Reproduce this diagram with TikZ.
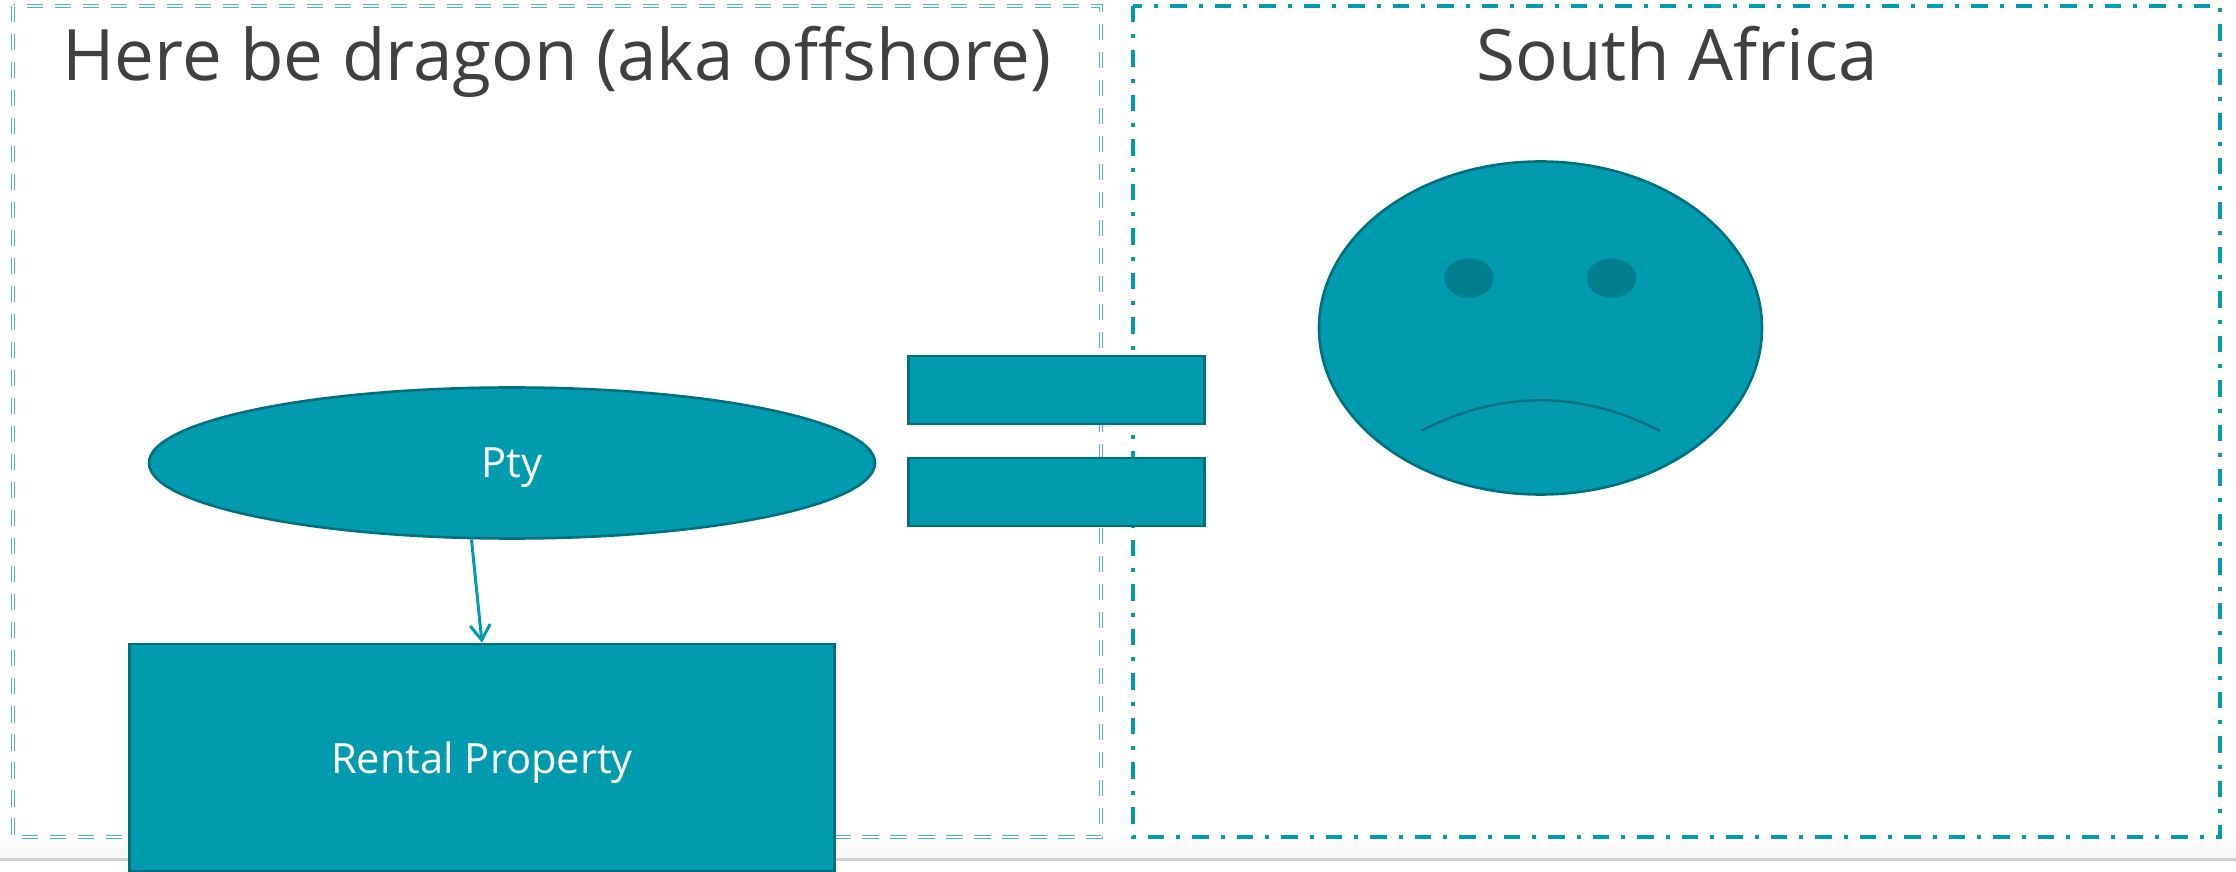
\documentclass[tikz,border=0pt]{standalone}
\usepackage{fontspec}
\setmainfont{Open Sans}
\usepackage{xcolor}
\usetikzlibrary{shapes,arrows.meta,positioning}
\definecolor{tealfill}{HTML}{009BAF}
\definecolor{tealedge}{HTML}{007080}
\definecolor{tealeye}{HTML}{00808F}
\definecolor{titlegray}{HTML}{404040}
\def\px{0.2499bp}
\tikzset{
 plate/.style={draw=tealedge,fill=tealfill,line width=2.6*\px,inner sep=0pt,text=white,text depth=0pt,font=\fontsize{10.45}{13}\selectfont},
 eyeball/.style={ellipse,draw=tealedge!70!tealfill,fill=tealeye,line width=2.4*\px,minimum width=47*\px,minimum height=37*\px,inner sep=0pt},
 titletext/.style={font=\fontsize{17.8}{21}\selectfont,text=titlegray,anchor=base,inner sep=0pt},
}
\begin{document}
\begin{tikzpicture}[x=\px,y=-\px]
\useasboundingbox (0,0) rectangle (2236,872);
% ---------- slide footer
\shade[top color=white,bottom color=black!3] (0,830) rectangle (2236,858);
\draw[black!18,line width=3*\px] (0,859)--(2236,859);
% ---------- jurisdiction frames
\draw[tealfill!72,line width=1.8*\px,double=white,double distance=1.2*\px,dash pattern=on 16.5*\px off 11.5*\px] (13,6) rectangle (1101,837);
\draw[tealfill,line width=4*\px,dash pattern=on 16.5*\px off 12*\px on 4*\px off 12*\px] (1133,6) rectangle (2220,837);
\node[titletext] (dragon) at (557,81){Here be dragon (aka offshore)};
\node[titletext] (sa) at (1677,81){South Africa};
% ---------- structure
\node[plate,ellipse,minimum width=726*\px,minimum height=151*\px] (pty) at (512,463){Pty};
\node[plate,rectangle,minimum width=705*\px,minimum height=227*\px] (rental) at (482,757.5){Rental Property};
\draw[-{Straight Barb[length=15*\px,width=20*\px]},tealfill,line width=3*\px] (pty.242)--(rental.north);
% ---------- equals sign
\node[plate,rectangle,minimum width=296*\px,minimum height=68*\px] (barone) at (1056.5,390){};
\node[plate,rectangle,minimum width=296*\px,minimum height=68*\px] (bartwo) at (1056.5,492){};
% ---------- sad face
\node[plate,ellipse,minimum width=443*\px,minimum height=333*\px] (face) at (1540.5,328){};
\node[eyeball] (eyeleft) at (1469,278){};
\node[eyeball] (eyeright) at (1611.5,278){};
\draw[tealedge,line width=2.4*\px] (1421,431) .. controls (1500,390) and (1581,390) .. (1660,431);
\end{tikzpicture}
\end{document}
